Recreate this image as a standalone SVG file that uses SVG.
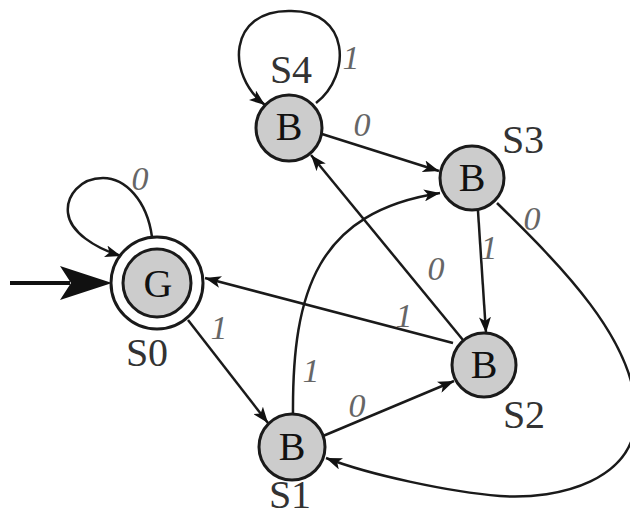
<svg xmlns="http://www.w3.org/2000/svg" width="630" height="518" viewBox="0 0 630 518">
<style>
.node{fill:#cccccc;stroke:#1a1a1a;stroke-width:3}
.ring{fill:none;stroke:#1a1a1a;stroke-width:3}
.e{fill:none;stroke:#1a1a1a;stroke-width:2.5;marker-end:url(#ah)}
.nt{font-family:"Liberation Serif","Times New Roman",serif;font-size:40px;fill:#111;text-anchor:middle}
.st{font-family:"Liberation Serif","Times New Roman",serif;font-size:40px;fill:#333;text-anchor:middle}
.el{font-family:"Liberation Serif","Times New Roman",serif;font-size:34px;font-style:italic;fill:#666;text-anchor:middle}
</style>
<defs>
<marker id="ah" markerUnits="userSpaceOnUse" markerWidth="18" markerHeight="12" refX="16" refY="6" orient="auto">
<path d="M0,0 L16,6 L0,12 L4,6 z" fill="#111"/>
</marker>
</defs>
<g id="connectors">
<line x1="10" y1="283" x2="70" y2="283" stroke="#111" stroke-width="4"/>
<polygon points="112,283 60,266 71,283 60,300" fill="#111"/>
<path class="e" d="M152,237 C147,200 125,178 103,178 C80,178 66,196 68,213 C70,232 95,248 121,256"/>
<path class="e" d="M316,103 C352,75 350,10 290,11 C228,10 226,75 265,105"/>
<path class="e" d="M322,134 L439,171"/>
<path class="e" d="M463,340 L311,155"/>
<path class="e" d="M478,211 L486,333"/>
<path class="e" d="M453,343 L205,278"/>
<path class="e" d="M188,320 L268,423"/>
<path class="e" d="M323,436 L454,381"/>
<path class="e" d="M293,415 C292,290 318,212 440,193"/>
<path class="e" d="M497,203 C560,265 636,340 636,415 C636,480 560,500 500,496 C450,492 370,475 326,458"/>
<text class="el" x="140" y="190">0</text>
<text class="el" x="351" y="69">1</text>
<text class="el" x="362" y="136">0</text>
<text class="el" x="532" y="230">0</text>
<text class="el" x="489" y="259">1</text>
<text class="el" x="436" y="280">0</text>
<text class="el" x="404" y="327">1</text>
<text class="el" x="219" y="339">1</text>
<text class="el" x="311" y="382">1</text>
<text class="el" x="357" y="417">0</text>
</g>
<g id="S0">
<circle class="ring" cx="157" cy="283" r="46"/>
<circle class="node" cx="157" cy="283" r="34"/>
<text class="nt" x="158" y="297">G</text>
<text class="st" x="147" y="366">S0</text>
</g>
<g id="S4">
<circle class="node" cx="289" cy="128" r="33"/>
<text class="nt" x="289" y="140">B</text>
<text class="st" x="291" y="83">S4</text>
</g>
<g id="S3">
<circle class="node" cx="472" cy="178" r="32"/>
<text class="nt" x="472" y="191">B</text>
<text class="st" x="523" y="153">S3</text>
</g>
<g id="S2">
<circle class="node" cx="484" cy="365" r="32"/>
<text class="nt" x="484" y="378">B</text>
<text class="st" x="524" y="428">S2</text>
</g>
<g id="S1">
<circle class="node" cx="292" cy="447" r="33"/>
<text class="nt" x="292" y="460">B</text>
<text class="st" x="290" y="508">S1</text>
</g>
</svg>
